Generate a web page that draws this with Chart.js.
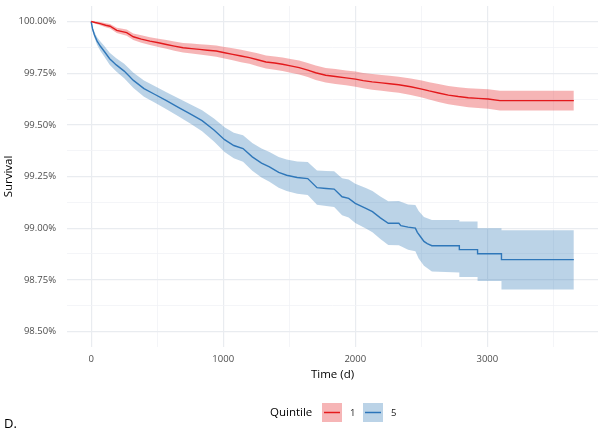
<!DOCTYPE html>
<html>
<head>
<meta charset="utf-8">
<script src="https://cdn.jsdelivr.net/npm/chart.js@4.4.1/dist/chart.umd.min.js"></script>
<style>
  html, body { margin: 0; padding: 0; background: #fff; }
  #wrap { position: relative; width: 600px; height: 432px; }
</style>
</head>
<body>
<div id="wrap"><canvas id="km" width="600" height="432"></canvas></div>
<script>
// Kaplan-Meier estimates (survival in %)
// repeated times mark the visible vertical drops of the step curve
const q1Time  = [0, 30, 68, 110, 143, 194, 269, 319, 380, 445, 510, 570, 630, 696, 760, 821, 880, 947, 1010, 1072, 1135, 1198, 1260, 1324, 1390, 1449, 1510, 1575, 1640, 1700, 1776, 1850, 1930, 2002, 2060, 2128, 2200, 2260, 2329, 2420, 2504, 2560, 2630, 2705, 2780, 2856, 2930, 3007, 3095, 3655];
const q1Surv  = [100, 99.995, 99.99, 99.982, 99.977, 99.957, 99.946, 99.926, 99.915, 99.905, 99.897, 99.889, 99.881, 99.873, 99.869, 99.865, 99.861, 99.857, 99.849, 99.841, 99.833, 99.825, 99.815, 99.804, 99.799, 99.793, 99.785, 99.777, 99.765, 99.752, 99.74, 99.734, 99.727, 99.721, 99.714, 99.708, 99.703, 99.699, 99.694, 99.684, 99.673, 99.664, 99.654, 99.644, 99.637, 99.631, 99.628, 99.625, 99.617, 99.617];
const q1Lower = [100, 99.99, 99.982, 99.972, 99.966, 99.944, 99.931, 99.91, 99.897, 99.886, 99.877, 99.868, 99.859, 99.85, 99.845, 99.84, 99.835, 99.83, 99.821, 99.812, 99.803, 99.795, 99.784, 99.772, 99.767, 99.76, 99.752, 99.743, 99.731, 99.717, 99.705, 99.698, 99.691, 99.684, 99.677, 99.67, 99.665, 99.66, 99.655, 99.644, 99.632, 99.622, 99.611, 99.6, 99.592, 99.585, 99.582, 99.578, 99.569, 99.569];
const q1Upper = [100, 100, 99.998, 99.992, 99.988, 99.97, 99.961, 99.942, 99.933, 99.924, 99.917, 99.91, 99.903, 99.896, 99.893, 99.89, 99.887, 99.884, 99.877, 99.87, 99.863, 99.855, 99.846, 99.836, 99.831, 99.826, 99.818, 99.811, 99.799, 99.787, 99.775, 99.77, 99.763, 99.758, 99.751, 99.746, 99.741, 99.738, 99.733, 99.724, 99.714, 99.706, 99.697, 99.688, 99.682, 99.677, 99.674, 99.672, 99.665, 99.665];

const q5Time  = [0, 10, 25, 45, 70, 100, 140, 190, 250, 320, 400, 480, 570, 660, 750, 840, 930, 1010, 1080, 1150, 1220, 1290, 1350, 1420, 1480, 1560, 1640, 1710, 1780, 1840, 1900, 1950, 2000, 2080, 2130, 2190, 2250, 2330, 2345, 2400, 2455, 2470, 2490, 2520, 2545, 2580, 2788, 2788, 2926, 2926, 3107, 3107, 3655];
const q5Surv  = [100, 99.965, 99.935, 99.905, 99.88, 99.855, 99.82, 99.79, 99.76, 99.715, 99.675, 99.648, 99.617, 99.585, 99.553, 99.52, 99.475, 99.428, 99.4, 99.385, 99.345, 99.315, 99.297, 99.27, 99.256, 99.245, 99.24, 99.196, 99.192, 99.189, 99.152, 99.144, 99.12, 99.096, 99.08, 99.05, 99.024, 99.024, 99.012, 99.005, 99.0, 98.98, 98.962, 98.936, 98.925, 98.915, 98.915, 98.896, 98.896, 98.876, 98.876, 98.848, 98.848];
const q5BandTime = [0, 10, 25, 45, 70, 100, 140, 190, 250, 320, 400, 480, 570, 660, 750, 840, 930, 1010, 1080, 1150, 1220, 1290, 1350, 1420, 1480, 1560, 1640, 1710, 1780, 1840, 1900, 1950, 2000, 2080, 2130, 2190, 2250, 2330, 2400, 2455, 2480, 2520, 2580, 2788, 2788, 2926, 2926, 3107, 3107, 3655];
const q5Lower = [100, 99.957, 99.921, 99.886, 99.857, 99.829, 99.791, 99.758, 99.725, 99.678, 99.636, 99.608, 99.576, 99.541, 99.506, 99.469, 99.419, 99.368, 99.338, 99.321, 99.278, 99.245, 99.225, 99.196, 99.18, 99.167, 99.16, 99.113, 99.107, 99.102, 99.062, 99.052, 99.025, 98.998, 98.98, 98.947, 98.918, 98.917, 98.895, 98.888, 98.853, 98.818, 98.79, 98.785, 98.764, 98.764, 98.744, 98.744, 98.703, 98.703];
const q5Upper = [100, 99.973, 99.949, 99.924, 99.903, 99.881, 99.849, 99.822, 99.795, 99.752, 99.714, 99.688, 99.658, 99.629, 99.6, 99.571, 99.531, 99.488, 99.462, 99.449, 99.412, 99.385, 99.369, 99.344, 99.332, 99.323, 99.32, 99.279, 99.277, 99.276, 99.242, 99.236, 99.215, 99.194, 99.18, 99.153, 99.13, 99.131, 99.115, 99.112, 99.083, 99.054, 99.04, 99.04, 99.032, 99.032, 99.0, 99.0, 98.99, 98.99];

const xTicks = [0, 500, 1000, 1500, 2000, 2500, 3000, 3500];
const xLabels = [0, 1000, 2000, 3000];
const yTicks = [98.5, 98.625, 98.75, 98.875, 99.0, 99.125, 99.25, 99.375, 99.5, 99.625, 99.75, 99.875, 100.0];
const yLabels = [98.5, 98.75, 99.0, 99.25, 99.5, 99.75, 100.0];

const RED = '#E41A1C', RED_BAND = 'rgba(228,26,28,0.32)';
const BLUE = '#2B74B9', BLUE_BAND = 'rgba(55,126,184,0.34)';
const FONT = '"Open Sans", "Noto Sans", sans-serif';

function pts(t, v) { return t.map((x, i) => ({ x: x, y: v[i] })); }

function series(t, v, color, fill, width) {
  return {
    data: pts(t, v),
    borderColor: color,
    backgroundColor: color,
    borderWidth: width,
    pointRadius: 0,
    fill: fill
  };
}

const bandLo1 = series(q1Time, q1Lower, 'rgba(0,0,0,0)', false, 0);
const bandHi1 = series(q1Time, q1Upper, 'rgba(0,0,0,0)', '-1', 0);
bandHi1.backgroundColor = RED_BAND;
const bandLo5 = series(q5BandTime, q5Lower, 'rgba(0,0,0,0)', false, 0);
const bandHi5 = series(q5BandTime, q5Upper, 'rgba(0,0,0,0)', '-1', 0);
bandHi5.backgroundColor = BLUE_BAND;

const isMajor = (list, v) => list.some(l => Math.abs(l - v) < 1e-6);

// axis titles, legend and panel tag
const extras = {
  id: 'extras',
  afterDraw(chart) {
    const ctx = chart.ctx;
    const a = chart.chartArea;
    ctx.save();
    ctx.fillStyle = '#000';
    ctx.textBaseline = 'middle';
    ctx.font = '11.5px ' + FONT;
    ctx.textAlign = 'center';
    ctx.fillText('Time (d)', (a.left + a.right) / 2, 375);

    ctx.save();
    ctx.translate(9, (a.top + a.bottom) / 2);
    ctx.rotate(-Math.PI / 2);
    ctx.fillText('Survival', 0, 0);
    ctx.restore();

    // legend
    ctx.textAlign = 'left';
    ctx.font = '11.5px ' + FONT;
    ctx.fillText('Quintile', 270, 413);
    const keys = [[322, RED_BAND, RED, '1'], [363, BLUE_BAND, BLUE, '5']];
    ctx.font = '9.5px ' + FONT;
    keys.forEach(k => {
      ctx.fillStyle = k[1];
      ctx.fillRect(k[0], 403, 20, 19);
      ctx.strokeStyle = k[2];
      ctx.lineWidth = 1.5;
      ctx.beginPath();
      ctx.moveTo(k[0] + 2, 412.5);
      ctx.lineTo(k[0] + 18, 412.5);
      ctx.stroke();
      ctx.fillStyle = '#1a1a1a';
      ctx.fillText(k[3], k[0] + 28, 413);
    });

    ctx.fillStyle = '#000';
    ctx.font = '13px ' + FONT;
    ctx.fillText('D.', 4, 424);
    ctx.restore();
  }
};

new Chart(document.getElementById('km'), {
  type: 'line',
  data: {
    datasets: [
      bandLo1, bandHi1, bandLo5, bandHi5,
      series(q1Time, q1Surv, RED, false, 1.4),
      series(q5Time, q5Surv, BLUE, false, 1.4)
    ]
  },
  options: {
    responsive: false,
    animation: false,
    devicePixelRatio: 1,
    layout: { padding: { top: 6, right: 2, left: 0, bottom: 0 } },
    plugins: { legend: { display: false }, tooltip: { enabled: false } },
    scales: {
      x: {
        type: 'linear',
        min: -183,
        max: 3838,
        afterBuildTicks: s => { s.ticks = xTicks.map(v => ({ value: v })); },
        afterFit: s => { s.height = 85; s.paddingLeft = 0; s.paddingRight = 0; },
        border: { display: false },
        grid: {
          drawTicks: false,
          color: c => isMajor(xLabels, c.tick.value) ? '#e9ecf0' : '#f1f3f6',
          lineWidth: c => isMajor(xLabels, c.tick.value) ? 1.2 : 0.8
        },
        ticks: {
          autoSkip: false,
          maxRotation: 0,
          padding: 7,
          color: '#4d4d4d',
          font: { family: FONT, size: 9.5 },
          callback: v => isMajor(xLabels, v) ? String(v) : ''
        }
      },
      y: {
        type: 'linear',
        min: 98.425,
        max: 100.075,
        afterBuildTicks: s => { s.ticks = yTicks.map(v => ({ value: v })); },
        afterFit: s => { s.width = 67; s.paddingTop = 0; s.paddingBottom = 0; },
        border: { display: false },
        grid: {
          drawTicks: false,
          color: c => isMajor(yLabels, c.tick.value) ? '#e9ecf0' : '#f1f3f6',
          lineWidth: c => isMajor(yLabels, c.tick.value) ? 1.2 : 0.8
        },
        ticks: {
          autoSkip: false,
          padding: 11,
          color: '#4d4d4d',
          font: { family: FONT, size: 9.5 },
          callback: v => isMajor(yLabels, v) ? v.toFixed(2) + '%' : ''
        }
      }
    }
  },
  plugins: [extras]
});
</script>
</body>
</html>
